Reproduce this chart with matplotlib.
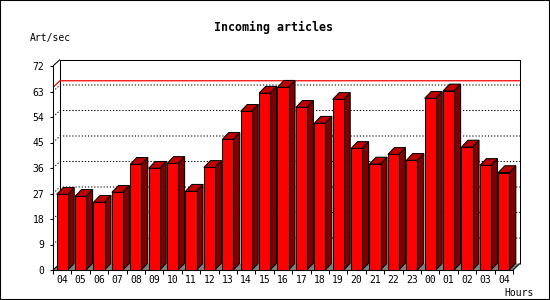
import matplotlib
matplotlib.use('Agg')
import matplotlib.pyplot as plt
from matplotlib.patches import Polygon, Rectangle

plt.rcParams['font.family'] = 'DejaVu Sans Mono'

# data
hours = ['04', '05', '06', '07', '08', '09', '10', '11', '12', '13', '14', '15', '16',
         '17', '18', '19', '20', '21', '22', '23', '00', '01', '02', '03', '04']
rate = [26.7, 26.0, 23.9, 27.4, 37.3, 35.9, 37.6, 27.8, 36.2, 46.1, 56.0, 62.4, 64.5,
        57.4, 51.8, 60.2, 42.9, 37.4, 40.8, 38.7, 60.6, 63.2, 43.4, 36.9, 34.4]
yticks = [0, 9, 18, 27, 36, 45, 54, 63, 72]

W, H = 550, 300
fig = plt.figure(figsize=(5.5, 3), dpi=100)
ax = fig.add_axes([53 / W, 30 / H, 460 / W, 204 / H])
n = len(rate)
ymax = 72
ax.set_xlim(0, n)
ax.set_ylim(0, ymax)

# pixel -> data units
pxx = n / 460
pxy = ymax / 204
ddx, ddy = 7 * pxx, 6.5 * pxy    # back plane offset
bdx, bdy = 6.5 * pxx, 6.8 * pxy  # bar depth

lw = 0.75


def poly(pts, fc, ec='black', z=2):
    ax.add_patch(Polygon(pts, closed=True, facecolor=fc, edgecolor=ec,
                         linewidth=lw, clip_on=False, zorder=z))


def line(xs, ys, **kw):
    kw.setdefault('color', 'black')
    kw.setdefault('lw', lw)
    kw.setdefault('zorder', 1)
    ax.plot(xs, ys, clip_on=False, solid_capstyle='butt', **kw)


# floor
poly([(0, 0), (ddx, ddy), (n + ddx, ddy), (n, 0)], '#808080', ec='none', z=0.5)

# back plane
line([ddx, ddx, n + ddx, n + ddx], [ddy, ymax + ddy, ymax + ddy, ddy])
line([0, ddx], [ymax, ymax + ddy])
line([0, ddx], [0, ddy])
line([n, n + ddx], [0, ddy])

# grid lines
for v in yticks[1:-1]:
    line([0, ddx, n + ddx], [v, v + ddy, v + ddy], ls=(0, (1.2, 1.8)))

# max line
top = max(rate)
line([0, ddx, n + ddx], [top, top + ddy, top + ddy], color='red', lw=0.9)

# bars
for i, v in enumerate(rate):
    x0 = i + 0.2
    x1 = x0 + 0.6
    poly([(x1, 0), (x1 + bdx, bdy), (x1 + bdx, v + bdy), (x1, v)], '#800000')
    poly([(x0, v), (x1, v), (x1 + bdx, v + bdy), (x0 + bdx, v + bdy)], '#c00000')
    poly([(x0, 0), (x1, 0), (x1, v), (x0, v)], '#ff0000')

# axes
for s in ['top', 'right']:
    ax.spines[s].set_visible(False)
for s in ['left', 'bottom']:
    ax.spines[s].set_linewidth(lw)
    ax.spines[s].set_zorder(3)
ax.set_facecolor('none')
ax.set_yticks(yticks)
ax.set_yticklabels([str(v) for v in yticks])
ax.tick_params(axis='y', length=2.5, width=lw, pad=3.7, labelsize=7)
ax.set_xticks(range(n + 1))
ax.set_xticklabels([])
ax.set_xticks([i + 0.5 for i in range(n)], minor=True)
ax.set_xticklabels(hours, minor=True)
ax.tick_params(axis='x', which='major', length=3, width=lw)
ax.tick_params(axis='x', which='minor', length=0, pad=3.5, labelsize=7)

fig.text(273.5 / W, 1 - 31 / H, 'Incoming articles', ha='center', va='baseline',
         fontsize=8.4, fontweight='bold')
fig.text(30 / W, 1 - 41.5 / H, 'Art/sec', ha='left', va='baseline', fontsize=7)
fig.text(519.5 / W, 1 - 295.5 / H, 'Hours', ha='center', va='baseline', fontsize=7)

fig.add_artist(Rectangle((0, 0), 1, 1, transform=fig.transFigure, fill=False,
                         ec='black', lw=1.5))

fig.savefig('out.png', dpi=100)
